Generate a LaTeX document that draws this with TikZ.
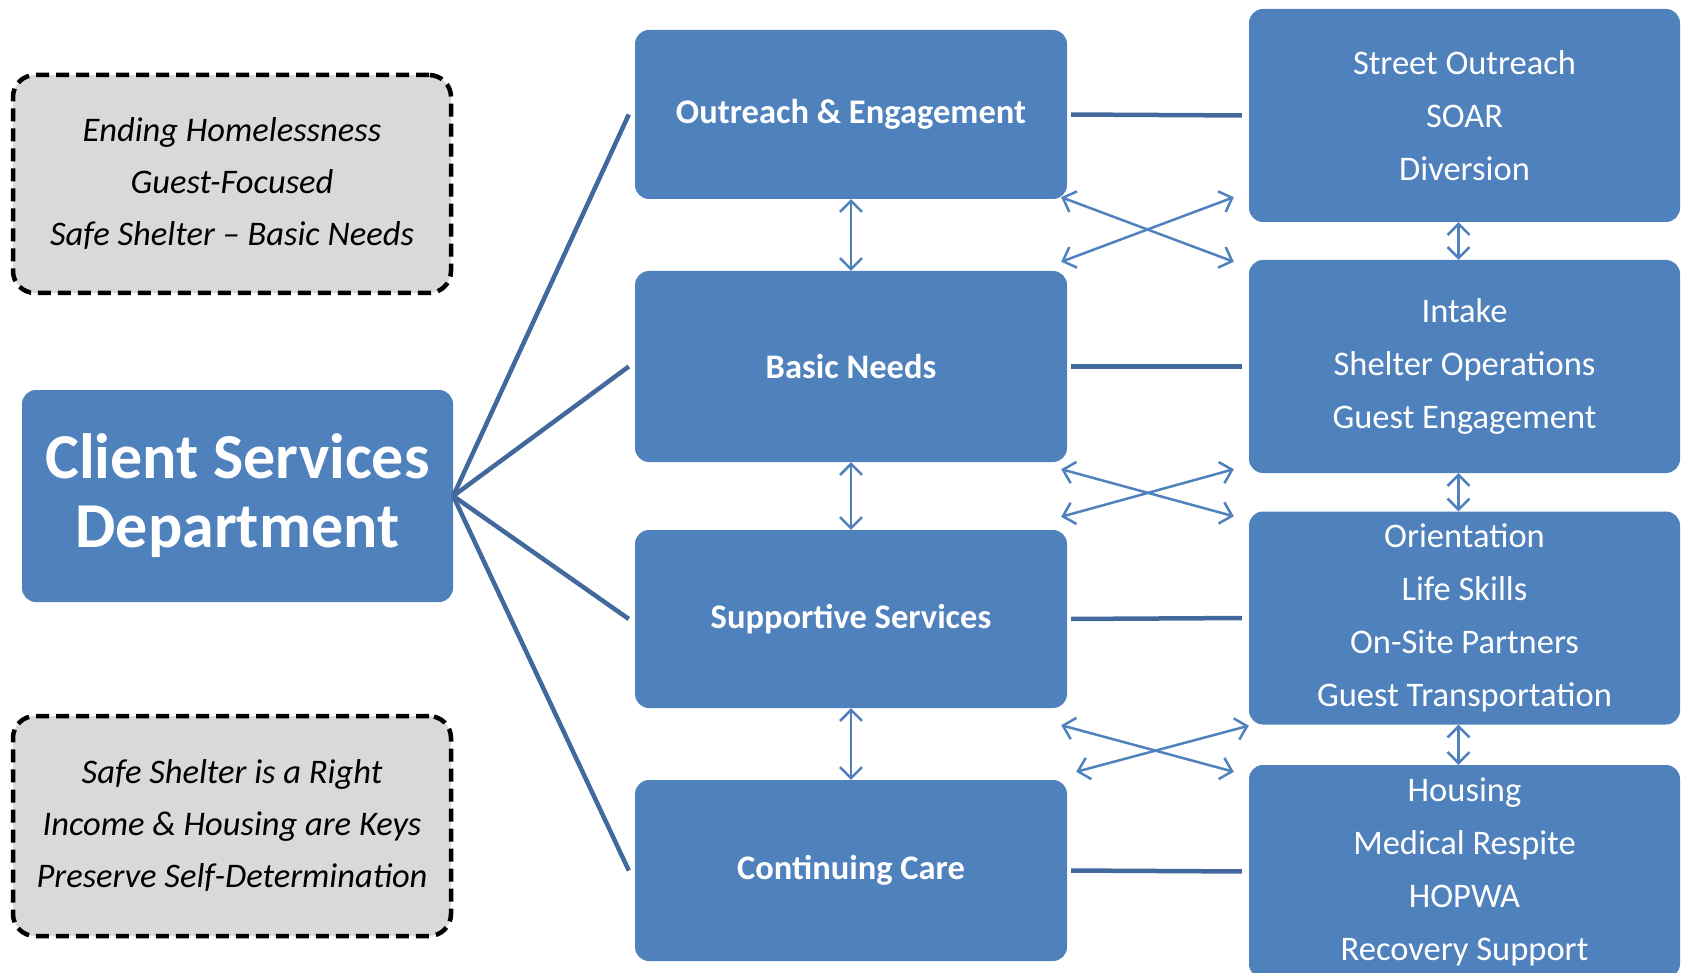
\documentclass[tikz,border=0pt]{standalone}
\usepackage{fontspec}
\setmainfont{Carlito}
\usetikzlibrary{arrows.meta,calc}
\definecolor{boxblue}{HTML}{4F81BD}
\definecolor{linkblue}{HTML}{41699C}
\definecolor{notegray}{HTML}{D9D9D9}
\begin{document}
\begin{tikzpicture}[
			x=1pt,y=-1pt,
			topic/.style={rectangle,rounded corners=14pt,fill=boxblue,text=white,align=center,inner sep=0pt,
				font=\fontsize{34.5}{53}\selectfont\bfseries},
			detail/.style={topic,minimum width=431pt,minimum height=213pt,font=\fontsize{34.5}{53}\selectfont},
			note/.style={rectangle,rounded corners=22pt,fill=notegray,draw=black,line width=4.5pt,
				dash pattern=on 13pt off 7pt,align=center,minimum width=438pt,inner sep=0pt,
				font=\fontsize{34.5}{52}\selectfont\itshape},
			link/.style={draw=linkblue,line width=4.5pt},
			twoway/.style={draw=boxblue,line width=2.5pt,{Straight Barb[length=11pt,width=22pt]}-{Straight Barb[length=11pt,width=22pt]}}
		]
		\useasboundingbox (0,0) rectangle (1688,973);
		% left side
		\node[topic,minimum width=431pt,minimum height=212pt,font=\fontsize{64}{69}\selectfont\bfseries]
			(csd) at (237.5,496) {Client Services\\Department};
		\node[note,minimum height=218pt] (vision) at (232,184) {Ending Homelessness\\Guest-Focused\\Safe Shelter -- Basic Needs};
		\node[note,minimum height=220pt] (values) at (232,826) {Safe Shelter is a Right\\Income \& Housing are Keys\\Preserve Self-Determination};
		% middle column
		\node[topic,minimum width=432pt,minimum height=169pt] (oe) at (851,114.5) {Outreach \& Engagement};
		\node[topic,minimum width=432pt,minimum height=191pt] (bn) at (851,366.5) {Basic Needs};
		\node[topic,minimum width=432pt,minimum height=178pt] (ss) at (851,619) {Supportive Services};
		\node[topic,minimum width=432pt,minimum height=181pt] (cc) at (851,870.5) {Continuing Care};
		% right column
		\node[detail] (so) at (1464.5,115.5) {Street Outreach\\SOAR\\Diversion};
		\node[detail] (sh) at (1464.5,366.5) {Intake\\Shelter Operations\\Guest Engagement};
		\node[detail] (ls) at (1464.5,618) {Orientation\\Life Skills\\On-Site Partners\\Guest Transportation};
		\node[detail] (hs) at (1464.5,871.5) {Housing\\Medical Respite\\HOPWA\\Recovery Support};
		% fan out
		\foreach \t in {oe,bn,ss,cc}
			\draw[link] (csd.east) -- ($(\t.west)+(-6,0)$);
		\foreach \a/\b in {oe/so,bn/sh,ss/ls,cc/hs}
			\draw[link,shorten <=4pt,shorten >=7pt] (\a.east) -- (\b.west);
		% up and down
		\foreach \a/\b in {oe/bn,bn/ss,ss/cc}
			\draw[twoway] (\a.south) -- (\b.north);
		\foreach \a/\b in {so/sh,sh/ls,ls/hs}
			\draw[twoway] ($(\a.south)+(-6,0)$) -- ($(\b.north)+(-6,0)$);
		% crossings
		\draw[twoway] ($(oe.south east)+(-6,-2)$) -- ($(sh.north west)+(-15,2)$);
		\draw[twoway] ($(bn.north east)+(-6,-9)$) -- ($(so.south west)+(-15,-25)$);
		\draw[twoway] ($(bn.south east)+(-6,7)$) -- ($(ls.north west)+(-15,5)$);
		\draw[twoway] ($(ss.north east)+(-6,-13)$) -- ($(sh.south west)+(-15,-4)$);
		\draw[twoway] ($(ss.south east)+(-6,17)$) -- ($(hs.north west)+(-15,7)$);
		\draw[twoway] ($(cc.north east)+(9,-8)$) -- ($(ls.south west)+(0,1)$);
	\end{tikzpicture}
\end{document}
